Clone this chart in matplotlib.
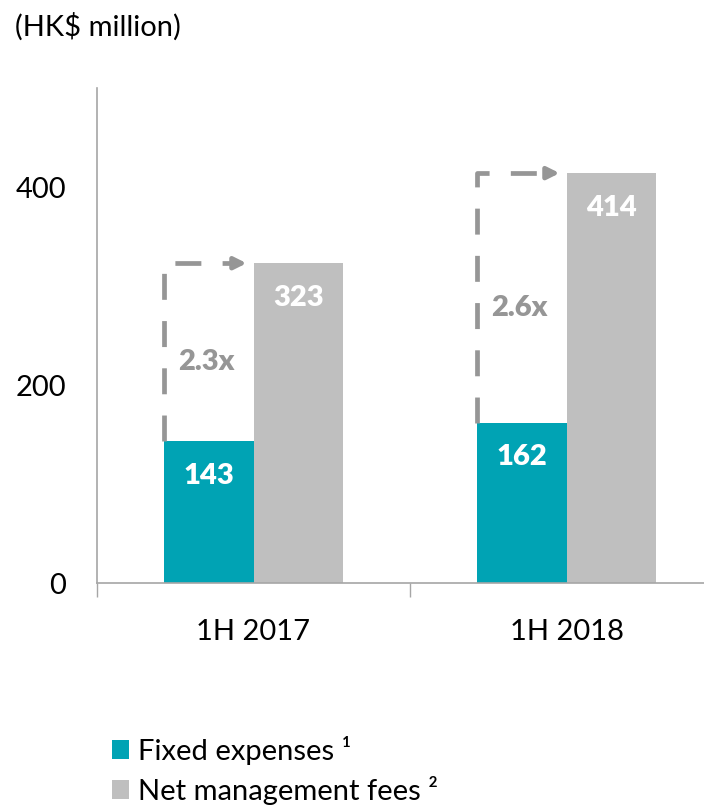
import matplotlib
matplotlib.use("Agg")
import matplotlib.pyplot as plt
import numpy as np

plt.rcParams["font.family"] = ["Lato", "DejaVu Sans"]

categories = ["1H 2017", "1H 2018"]
fixed_expenses = [143, 162]
net_mgmt_fees = [323, 414]
multiples = ["2.3x", "2.6x"]
yticks = [0, 200, 400]

TEAL = "#00A3B4"
GREY = "#BFBFBF"
ARROW = "#969696"
SPINE = "#A6A6A6"

fig = plt.figure(figsize=(7.04, 8.07), dpi=100)
ax = fig.add_axes([97 / 704, 224 / 807, 607 / 704, 495 / 807])

x = np.arange(len(categories))
w = 0.285
ax.bar(x - w / 2, fixed_expenses, w, color=TEAL, label="Fixed expenses \u00b9")
ax.bar(x + w / 2, net_mgmt_fees, w, color=GREY, label="Net management fees \u00b2")

for i in range(len(categories)):
    fe, nm = fixed_expenses[i], net_mgmt_fees[i]
    ax.text(x[i] - w / 2, fe - 35, str(fe), ha="center", va="center",
            color="white", fontsize=21, fontweight="heavy")
    ax.text(x[i] + w / 2, nm - 35, str(nm), ha="center", va="center",
            color="white", fontsize=21, fontweight="heavy")
    # dashed arrow: up from fixed expenses, across to net management fees
    vx = x[i] - w + 0.0
    ax.plot([vx, vx, x[i] - 0.045], [fe, nm, nm], color=ARROW, lw=3.4,
            dashes=(5.5, 4.5), solid_capstyle="butt", dash_capstyle="butt")
    ax.annotate("", xy=(x[i] - 0.022, nm), xytext=(x[i] - 0.06, nm),
                arrowprops=dict(arrowstyle="-|>,head_length=0.7,head_width=0.35",
                                color=ARROW, lw=3.4, shrinkA=0, shrinkB=0))
    ax.text(vx + 0.045, (fe + nm) / 2 - 10, multiples[i], ha="left", va="center",
            color=ARROW, fontsize=21, fontweight="heavy")

ax.set_yticks(yticks)
ax.tick_params(axis="y", length=0, labelsize=21, pad=22)
ax.set_xticks(x)
ax.set_xticklabels(categories)
ax.tick_params(axis="x", length=0, labelsize=21, pad=26)
ax.set_xticks([-0.5, 0.5], minor=True)
ax.tick_params(axis="x", which="minor", length=10, color=SPINE, width=1)
ax.set_ylim(0, 500)
ax.set_xlim(-0.5, -0.5 + 607 / 313)

for s in ["top", "right"]:
    ax.spines[s].set_visible(False)
for s in ["left", "bottom"]:
    ax.spines[s].set_color(SPINE)
    ax.spines[s].set_linewidth(1.2)

fig.text(15 / 704, 1 - 27 / 807, "(HK$ million)", fontsize=21, va="center", ha="left")

fig.legend(loc="upper left", bbox_to_anchor=(100 / 704, 1 - 724 / 807),
           frameon=False, fontsize=21, handlelength=0.6, handleheight=0.6,
           handletextpad=0.3, labelspacing=0.38, borderaxespad=0)

fig.savefig("out.png", dpi=100)
